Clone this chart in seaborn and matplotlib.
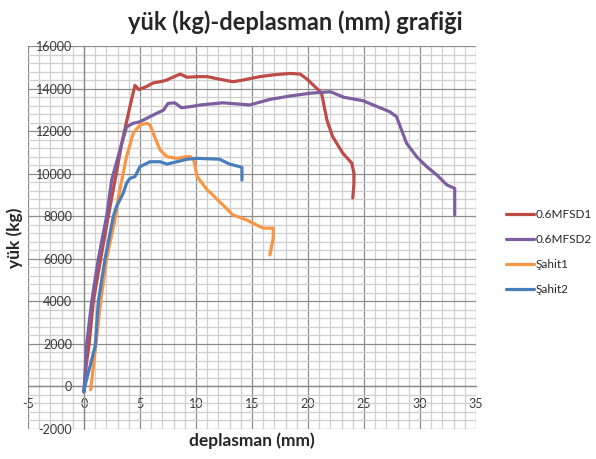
import pandas as pd
import matplotlib.pyplot as plt
import seaborn as sns
from matplotlib.ticker import MultipleLocator

# deplasman (mm) / yük (kg) values
mfsd1_x = [0.0, 0.2, 0.46, 0.83, 1.49, 2.17, 2.77, 3.4, 4.1, 4.55, 4.9, 5.6, 6.2, 6.8, 7.4, 7.7,
           8.6, 9.2, 10.1, 11.0, 12.0, 13.3, 14.2, 15.7, 17.0, 18.4, 19.3, 19.9, 20.5, 21.2,
           21.7, 22.2, 23.1, 23.9, 24.1, 24.1, 24.0]
mfsd1_y = [-250, 1000, 2000, 4000, 6000, 8000, 9700, 11500, 13150, 14150, 13950, 14100, 14270,
           14320, 14400, 14480, 14680, 14530, 14560, 14560, 14450, 14320, 14400, 14560, 14650,
           14710, 14680, 14450, 14150, 13800, 12500, 11740, 10970, 10500, 10030, 9500, 8860]
mfsd2_x = [0.0, 0.24, 0.69, 1.28, 2.02, 2.47, 3.2, 3.8, 4.4, 5.0, 5.6, 6.5, 7.1, 7.5, 8.1, 8.7,
           9.5, 10.4, 12.4, 14.8, 16.6, 18.4, 20.2, 22.0, 23.2, 24.9, 27.3, 27.9, 28.8, 29.7,
           30.6, 31.5, 32.4, 33.1, 33.1]
mfsd2_y = [-250, 2000, 4000, 6000, 8000, 9700, 11100, 12200, 12370, 12440, 12600, 12840, 12990,
           13300, 13330, 13100, 13150, 13230, 13330, 13230, 13490, 13650, 13780, 13850, 13590,
           13430, 12910, 12680, 11430, 10800, 10330, 9940, 9470, 9310, 8060]
sahit1_x = [0.6, 1.07, 1.49, 2.02, 2.83, 3.07, 3.8, 4.4, 5.0, 5.6, 5.9, 6.3, 6.8, 7.4, 8.3,
            9.2, 9.5, 9.8, 10.1, 11.0, 11.5, 12.4, 13.3, 14.5, 15.4, 16.0, 16.9, 16.9, 16.6]
sahit1_y = [-150, 2000, 4000, 6000, 8000, 8900, 10800, 11900, 12290, 12370, 12290, 11740, 11110,
            10800, 10720, 10800, 10800, 10640, 9860, 9240, 9000, 8530, 8060, 7830, 7590, 7440,
            7440, 7000, 6180]
sahit2_x = [-0.05, 1.0, 1.28, 1.88, 2.62, 2.9, 3.5, 3.8, 4.1, 4.55, 5.0, 5.9, 6.8, 7.4, 8.3,
            9.2, 10.1, 12.1, 13.0, 13.3, 14.1, 14.1]
sahit2_y = [-250, 1900, 4000, 6000, 8000, 8450, 9080, 9550, 9780, 9860, 10330, 10560, 10560,
            10450, 10560, 10680, 10720, 10680, 10450, 10410, 10300, 9700]

series = ["0.6MFSD1", "0.6MFSD2", "Şahit1", "Şahit2"]
colors = ["#BE4B48", "#7D5FA0", "#F79646", "#4A7EBB"]

frames = []
for name, xs, ys in zip(series, [mfsd1_x, mfsd2_x, sahit1_x, sahit2_x],
                        [mfsd1_y, mfsd2_y, sahit1_y, sahit2_y]):
    d = pd.DataFrame({"x": xs, "y": ys})
    d["seri"] = name
    frames.append(d)
df = pd.concat(frames, ignore_index=True)

sns.set_style("white")
plt.rcParams["font.family"] = ["Lato", "DejaVu Sans"]
plt.rcParams["axes.unicode_minus"] = False

fig = plt.figure(figsize=(5.96, 4.59), dpi=100)
ax = fig.add_axes([28 / 596, 30 / 459, 448 / 596, 383 / 459])

sns.lineplot(data=df, x="x", y="y", hue="seri", palette=colors, sort=False,
             estimator=None, units="seri", linewidth=2.3, ax=ax, zorder=3)

ax.set_xlim(-5, 35)
ax.set_ylim(-2000, 16000)
ax.xaxis.set_major_locator(MultipleLocator(5))
ax.xaxis.set_minor_locator(MultipleLocator(1))
ax.yaxis.set_major_locator(MultipleLocator(2000))
ax.yaxis.set_minor_locator(MultipleLocator(400))
ax.grid(which="major", color="#8c8c8c", linewidth=0.9, zorder=1)
ax.grid(which="minor", color="#cfcfcf", linewidth=0.9, zorder=0)
ax.set_axisbelow(True)

for s in ["left", "bottom"]:
    ax.spines[s].set_position(("data", 0))
    ax.spines[s].set_color("#868686")
    ax.spines[s].set_linewidth(0.9)
for s in ["top", "right"]:
    ax.spines[s].set_visible(False)

ax.tick_params(which="both", length=0, labelsize=9, labelcolor="#3a3a3a")
ax.tick_params(axis="x", pad=8.5)
ax.tick_params(axis="y", pad=8.5)

ax.set_xlabel("")
ax.set_ylabel("")
fig.text(252 / 596, 1 - 441 / 459, "deplasman (mm)", ha="center", va="center",
         fontsize=12.5, fontweight="bold")
fig.text(15 / 596, 1 - 238 / 459, "yük (kg)", ha="center", va="center",
         rotation=90, fontsize=12.5, fontweight="bold")
fig.text(295 / 596, 1 - 22 / 459, "yük (kg)-deplasman (mm) grafiği", ha="center",
         va="center", fontsize=17, fontweight="bold")

handles, labels = ax.get_legend_handles_labels()
ax.legend(handles, labels, loc="center left", bbox_to_anchor=(495 / 596, 1 - 252 / 459),
          bbox_transform=fig.transFigure, frameon=False, fontsize=8.5,
          handlelength=2.4, handletextpad=0.1, labelspacing=1.2)

fig.savefig("out.png", dpi=100)
